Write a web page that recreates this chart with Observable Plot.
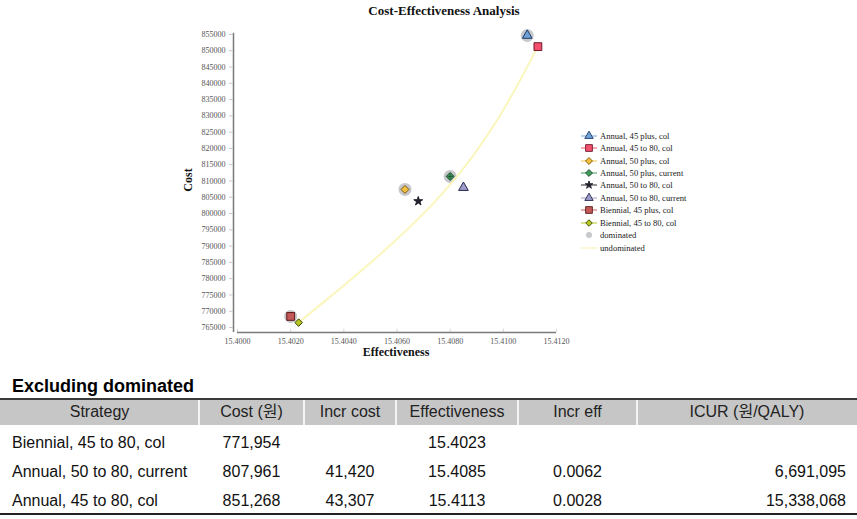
<!DOCTYPE html>
<html><head><meta charset="utf-8">
<script src="https://cdn.jsdelivr.net/npm/d3@7"></script>
<script src="https://cdn.jsdelivr.net/npm/@observablehq/plot@0.6"></script>
<style>
body{margin:0;background:#fff;width:857px;height:519px;position:relative;overflow:hidden;}
#chart{position:absolute;left:0;top:0;}
.abs{position:absolute;white-space:nowrap;}
.serif{font-family:"Liberation Serif","Times New Roman",serif;color:#111;}
.sans{font-family:"Liberation Sans",Arial,"Noto Sans CJK KR",sans-serif;color:#111;}
</style></head><body>
<div id="chart"></div>
<div id="overlay"></div>
<script>
// ---- chart data ----
const strategies = [
  "Annual, 45 plus, col",
  "Annual, 45 to 80, col",
  "Annual, 50 plus, col",
  "Annual, 50 plus, current",
  "Annual, 50 to 80, col",
  "Annual, 50 to 80, current",
  "Biennial, 45 plus, col",
  "Biennial, 45 to 80, col"
];
const effectiveness = [15.4109, 15.4113, 15.4063, 15.4080, 15.4068, 15.4085, 15.4020, 15.4023];
const cost = [854700, 851268, 807400, 811400, 803800, 807961, 768400, 766500];
const dominated = [true, false, true, true, false, false, true, false];
const frontier = ["Biennial, 45 to 80, col", "Annual, 50 to 80, current", "Annual, 45 to 80, col"];
const yTicks = [765000, 770000, 775000, 780000, 785000, 790000, 795000, 800000, 805000, 810000,
                815000, 820000, 825000, 830000, 835000, 840000, 845000, 850000, 855000];
const xTicks = [15.4000, 15.4020, 15.4040, 15.4060, 15.4080, 15.4100, 15.4120];
const legendExtra = ["dominated", "undominated"];

// ---- table data ----
const tableTitle = "Excluding dominated";
const tableHeaders = ["Strategy", "Cost (원)", "Incr cost", "Effectiveness", "Incr eff", "ICUR (원/QALY)"];
const tStrategy = ["Biennial, 45 to 80, col", "Annual, 50 to 80, current", "Annual, 45 to 80, col"];
const tCost = ["771,954", "807,961", "851,268"];
const tIncrCost = ["", "41,420", "43,307"];
const tEff = ["15.4023", "15.4085", "15.4113"];
const tIncrEff = ["", "0.0062", "0.0028"];
const tIcur = ["", "6,691,095", "15,338,068"];

// ---- styles ----
const styleOf = {
  "Annual, 45 plus, col":      {symbol: "triangle", r: 3.6, fill: "#6fa3d8", stroke: "#1d3866"},
  "Annual, 45 to 80, col":     {symbol: "square",   r: 4.4, fill: "#f2506c", stroke: "#6e1a2a"},
  "Annual, 50 plus, col":      {symbol: "diamond2", r: 3.6, fill: "#f2c23c", stroke: "#7a5010"},
  "Annual, 50 plus, current":  {symbol: "diamond2", r: 3.6, fill: "#3f9a5c", stroke: "#1c4a2c"},
  "Annual, 50 to 80, col":     {symbol: "star",     r: 2.8, fill: "#22222e", stroke: "#22222e"},
  "Annual, 50 to 80, current": {symbol: "triangle", r: 3.6, fill: "#9c9cc8", stroke: "#26264e"},
  "Biennial, 45 plus, col":    {symbol: "square",   r: 4.4, fill: "#c45858", stroke: "#5e1c1c"},
  "Biennial, 45 to 80, col":   {symbol: "diamond2", r: 3.4, fill: "#b8c61e", stroke: "#34440a"}
};
const serif = "Liberation Serif, Times New Roman, serif";

const data = strategies.map((s, i) => ({strategy: s, eff: effectiveness[i], cost: cost[i], dominated: dominated[i]}));
const frontierData = frontier.map(n => data.find(d => d.strategy === n));

const marks = [
  Plot.ruleX(xTicks, {x: d => d, y1: 763500, y2: 764500, stroke: "#d8d8d8", strokeWidth: 1}),
  Plot.ruleY([763500], {x1: 15.4, x2: 15.412, stroke: "#7a7a7a", strokeWidth: 1.5}),
  Plot.ruleX([15.4], {y1: 763500, y2: 855400, dx: -4, stroke: "#7a7a7a", strokeWidth: 1.5}),
  Plot.dot(data.filter(d => d.dominated), {x: "eff", y: "cost", r: 6.5, fill: "#c6c8cc"}),
  Plot.line(frontierData, {x: "eff", y: "cost", curve: "basis", stroke: "#faf6bc", strokeWidth: 2}),
  ...data.map(d => {
    const st = styleOf[d.strategy];
    return Plot.dot([d], {x: "eff", y: "cost", symbol: st.symbol, r: st.r, fill: st.fill, stroke: st.stroke, strokeWidth: 1});
  }),
  Plot.dot(data.filter(d => d.strategy === "Annual, 50 plus, current"), {x: "eff", y: "cost", symbol: "plus", r: 1.8, stroke: "#1c4a2c", strokeWidth: 0.8}),
  Plot.axisY(yTicks, {anchor: "left", dx: -4, tickSize: 4, tickPadding: 4, tickFormat: d => String(d),
    fontSize: 8, fontFamily: serif, fill: "#555", stroke: "#c8c8c8", label: null}),
  Plot.axisX(xTicks, {anchor: "bottom", tickSize: 0, tickPadding: 6, tickFormat: d => d.toFixed(4),
    fontSize: 8, fontFamily: serif, fill: "#555", label: null})
];

const plot = Plot.plot({
  width: 857, height: 365,
  marginLeft: 237, marginRight: 301, marginTop: 30.74, marginBottom: 33.12,
  x: {type: "linear", domain: [15.4, 15.412]},
  y: {type: "linear", domain: [763500, 856000]},
  style: {background: "transparent", overflow: "visible"},
  marks
});
document.getElementById("chart").appendChild(plot);

// ---- overlay texts ----
const ov = document.getElementById("overlay");
function addDiv(cls, text, css) {
  const d = document.createElement("div");
  d.className = "abs " + cls;
  d.textContent = text;
  Object.assign(d.style, css);
  ov.appendChild(d);
  return d;
}
addDiv("serif", "Cost-Effectiveness Analysis", {left: "444px", top: "3px", transform: "translateX(-50%)", fontSize: "13px", fontWeight: "bold", lineHeight: "16px"});
addDiv("serif", "Effectiveness", {left: "396px", top: "344px", transform: "translateX(-50%)", fontSize: "12px", fontWeight: "bold", lineHeight: "16px"});
addDiv("serif", "Cost", {left: "188px", top: "180px", transform: "translate(-50%,-50%) rotate(-90deg)", fontSize: "12px", fontWeight: "bold", lineHeight: "14px"});

// ---- legend ----
const symMap = {triangle: d3.symbolTriangle, square: d3.symbolSquare, diamond2: d3.symbolDiamond2, star: d3.symbolStar, circle: d3.symbolCircle};
const legendItems = strategies.concat(legendExtra);
legendItems.forEach((name, i) => {
  const cy = 135.7 + i * 12.44;
  const svg = d3.create("svg").attr("width", 20).attr("height", 12)
    .style("position", "absolute").style("left", "579px").style("top", (cy - 6) + "px");
  if (styleOf[name]) {
    const st = styleOf[name];
    svg.append("line").attr("x1", 2).attr("x2", 18).attr("y1", 6).attr("y2", 6).attr("stroke", st.fill).attr("stroke-width", 1.2).attr("opacity", 0.8);
    svg.append("path").attr("transform", "translate(10,6)")
      .attr("d", d3.symbol(symMap[st.symbol], Math.PI * st.r * st.r * 0.75)())
      .attr("fill", st.fill).attr("stroke", st.stroke).attr("stroke-width", 0.9);
  } else if (name === "dominated") {
    svg.append("circle").attr("cx", 10).attr("cy", 6).attr("r", 3).attr("fill", "#c6c8cc");
  } else {
    svg.append("line").attr("x1", 2).attr("x2", 18).attr("y1", 6).attr("y2", 6).attr("stroke", "#faf6c8").attr("stroke-width", 1.6);
  }
  ov.appendChild(svg.node());
  addDiv("serif", name, {left: "600px", top: (cy - 6) + "px", fontSize: "8.6px", lineHeight: "12px", color: "#222"});
});

// ---- table ----
addDiv("sans", tableTitle, {left: "12px", top: "377px", fontSize: "18px", fontWeight: "bold", lineHeight: "18px", color: "#000"});
const colEdges = [0, 199, 304, 396, 518, 637, 857];
const headTop = 399, headBottom = 425;
const hdr = document.createElement("div");
hdr.className = "abs";
Object.assign(hdr.style, {left: "0px", top: (headTop - 1) + "px", width: "857px", height: (headBottom - headTop + 1) + "px", background: "#c6c6c6", borderTop: "2px solid #3a3a3a", boxSizing: "border-box"});
ov.appendChild(hdr);
tableHeaders.forEach((h, j) => {
  if (j > 0) {
    const sep = document.createElement("div");
    sep.className = "abs";
    Object.assign(sep.style, {left: (colEdges[j] - 1) + "px", top: (headTop + 1) + "px", width: "2px", height: (headBottom - headTop - 1) + "px", background: "#f4f4f4"});
    ov.appendChild(sep);
  }
  addDiv("sans", h, {left: colEdges[j] + "px", width: (colEdges[j + 1] - colEdges[j]) + "px", top: "402px", textAlign: "center", fontSize: "16px", lineHeight: "20px", color: "#222"});
});
const rowCenters = [443, 472, 500.5];
const cols = [tStrategy, tCost, tIncrCost, tEff, tIncrEff, tIcur];
rowCenters.forEach((cy, r) => {
  cols.forEach((col, j) => {
    const css = {top: (cy - 10) + "px", fontSize: "16px", lineHeight: "20px", color: "#111"};
    if (j === 0) { css.left = "12px"; }
    else if (j === 5) { css.left = colEdges[j] + "px"; css.width = (colEdges[j + 1] - colEdges[j] - 11) + "px"; css.textAlign = "right"; }
    else { css.left = colEdges[j] + "px"; css.width = (colEdges[j + 1] - colEdges[j]) + "px"; css.textAlign = "center"; }
    addDiv("sans", col[r], css);
  });
});
const bottom = document.createElement("div");
bottom.className = "abs";
Object.assign(bottom.style, {left: "0px", top: "513px", width: "857px", height: "1.5px", background: "#222"});
ov.appendChild(bottom);
</script>
</body></html>
